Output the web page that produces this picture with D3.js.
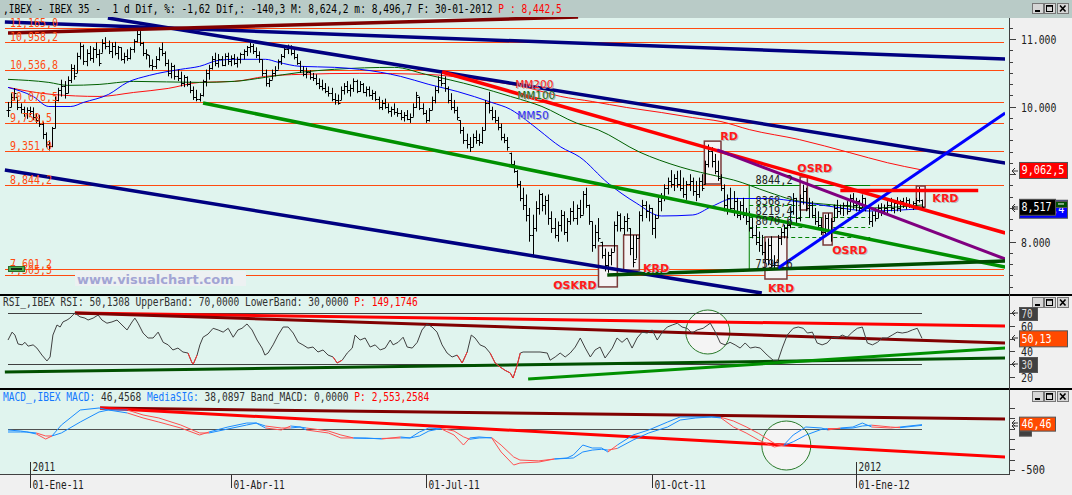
<!DOCTYPE html>
<html><head><meta charset="utf-8">
<script src="https://cdn.jsdelivr.net/npm/d3@7/dist/d3.min.js"></script>
<style>body{margin:0;background:#f0f0f0;overflow:hidden}svg{display:block}</style>
</head><body><svg id="c" width="1072" height="495"></svg>
<script>
// ---------------- DATA ----------------
const hi = [
10070,10200,10277,10150,10050,10000,9990,10000,9990,9900,
9880,9780,9620,9500,9700,10150,10280,10400,10380,10450,
10630,10620,10800,10950,10920,10850,10900,10880,10950,10850,
11000,11030,10980,10950,10960,10900,10880,10800,10850,10880,
11000,11140,11120,10960,10850,10760,10700,10750,10880,10950,
10820,10700,10650,10620,10550,10520,10470,10450,10380,10300,
10250,10200,10400,10550,10620,10750,10800,10780,10750,10790,
10800,10760,10780,10740,10800,10850,10900,10950,10930,10880,
10820,10700,10550,10420,10550,10600,10700,10780,10880,10920,
10910,10850,10780,10680,10600,10580,10540,10500,10480,10420,
10400,10350,10300,10280,10200,10180,10300,10350,10380,10330,
10420,10400,10380,10350,10300,10300,10250,10230,10150,10100,
10120,10050,10000,10050,9980,9950,9920,9950,9900,10050,
10220,10150,10050,9950,9980,10150,10300,10450,10537,10450,
10300,10200,10100,10000,9800,9700,9600,9550,9600,9650,
9600,9700,10100,10220,10000,9950,9850,9750,9600,9550,
9320,9200,9060,8900,8800,8700,8500,8400,8600,8770,
8720,8680,8700,8450,8350,8300,8470,8450,8350,8500,
8600,8550,8620,8750,8800,8550,8300,8250,8350,8000,
7900,7850,7900,8300,8450,8420,8380,8420,8200,8100,
8100,8450,8620,8600,8550,8500,8400,8650,8720,8850,
8950,9060,9000,9050,9060,8950,8900,9000,8950,8900,
8950,9000,9200,9440,9400,9300,9200,9000,8850,8700,
8800,8750,8650,8600,8650,8500,8450,8350,8250,8150,
8100,8000,8050,8080,7800,8100,8200,8250,8300,8500,
8720,8650,8700,8844,8800,8650,8600,8500,8450,8350,
8400,8420,8350,8550,8620,8550,8580,8600,8700,8720,
8650,8620,8700,8650,8550,8450,8500,8550,8570,8550,
8600,8650,8600,8660,8620,8650,8660,8640,8600,8650,
8810,8624];
const lo = [
9847,9990,10100,9950,9900,9850,9820,9870,9800,9760,
9700,9520,9400,9351,9400,9680,10080,10150,10120,10200,
10350,10400,10500,10700,10620,10600,10680,10650,10720,10600,
10800,10850,10780,10720,10760,10700,10680,10640,10680,10700,
10800,10950,10900,10750,10700,10580,10540,10560,10680,10750,
10600,10450,10420,10400,10380,10300,10290,10300,10200,10100,
10080,10076,10150,10300,10400,10550,10600,10580,10600,10600,
10620,10600,10620,10580,10640,10700,10750,10800,10780,10720,
10650,10450,10300,10290,10400,10450,10550,10620,10720,10780,
10760,10700,10620,10500,10450,10420,10400,10380,10320,10260,
10240,10200,10150,10080,10030,10030,10100,10180,10200,10150,
10220,10200,10220,10200,10150,10150,10100,10080,9960,9950,
9970,9900,9850,9880,9850,9800,9780,9800,9760,9850,
9980,9950,9880,9760,9780,9950,10050,10200,10300,10220,
10050,9950,9900,9800,9600,9450,9380,9330,9400,9450,
9420,9450,9650,9900,9800,9760,9650,9500,9460,9350,
9100,9020,8800,8600,8470,8300,8000,7770,8150,8400,
8450,8400,8250,8130,8050,8000,8150,8100,8000,8250,
8300,8250,8350,8400,8500,8250,7850,7900,8000,7750,
7560,7540,7650,7850,8150,8150,8100,8150,7800,7620,
7750,8050,8300,8350,8300,8100,8050,8350,8450,8600,
8700,8800,8750,8800,8750,8650,8620,8750,8680,8600,
8650,8750,8850,9100,9100,9000,8900,8750,8450,8400,
8450,8380,8350,8320,8350,8250,8150,8050,7950,7850,
7800,7700,7650,7600,7595,7700,7950,8050,8050,8200,
8400,8250,8300,8550,8450,8350,8350,8250,8200,8100,
8070,8100,8000,8300,8350,8400,8380,8400,8450,8480,
8450,8450,8500,8450,8250,8220,8300,8350,8380,8400,
8420,8450,8420,8450,8440,8500,8480,8500,8470,8500,
8580,8497];
const cl = [
9950,10150,10200,10000,9960,9900,9950,9940,9850,9800,
9740,9600,9450,9420,9680,10100,10250,10300,10200,10400,
10580,10450,10750,10900,10680,10800,10720,10850,10780,10650,
10950,10900,10820,10900,10800,10880,10700,10750,10720,10850,
10980,11080,10950,10800,10780,10620,10600,10700,10850,10800,
10650,10500,10600,10450,10420,10350,10440,10330,10250,10150,
10120,10180,10380,10500,10580,10700,10650,10700,10620,10750,
10680,10720,10650,10700,10780,10820,10880,10900,10820,10760,
10700,10500,10350,10400,10500,10550,10680,10750,10850,10880,
10800,10740,10650,10540,10480,10520,10440,10420,10350,10300,
10280,10240,10200,10120,10100,10060,10250,10300,10250,10280,
10380,10240,10330,10220,10260,10180,10200,10120,10000,10050,
10000,9940,9960,9920,9900,9850,9880,9820,9850,10000,
10180,9980,9900,9800,9950,10100,10250,10400,10350,10280,
10100,10000,9950,9850,9650,9500,9450,9400,9550,9500,
9480,9650,10050,9950,9850,9800,9700,9550,9500,9400,
9150,9050,8850,8650,8550,8400,8100,8200,8500,8700,
8550,8620,8350,8200,8100,8250,8400,8150,8300,8450,
8350,8500,8400,8700,8550,8300,7950,8150,8050,7800,
7650,7800,7850,8250,8400,8200,8300,8350,7900,7700,
8050,8400,8550,8450,8500,8200,8350,8600,8650,8800,
8900,8850,8950,8850,8800,8700,8850,8900,8750,8700,
8900,8800,9150,9350,9200,9050,8950,8800,8550,8650,
8500,8600,8400,8550,8400,8300,8200,8100,8000,7950,
7850,7750,7950,7650,7700,8050,8150,8200,8250,8450,
8650,8350,8650,8750,8500,8550,8400,8300,8250,8150,
8350,8150,8300,8500,8450,8500,8550,8450,8650,8550,
8600,8500,8650,8500,8300,8400,8350,8500,8450,8500,
8550,8500,8580,8500,8600,8550,8620,8550,8580,8620,
8750,8517];

// horizontal support / resistance levels
const levels = [11165.0, 10958.2, 10536.8, 10076.5, 9758.5, 9351.0, 8844.2, 7601.2, 7505.3];

// moving averages: [bar index, value]
const mm50 = [[0,10286],[8,10152],[13,10003],[20,10003],[24,10063],[32,10182],[38,10360],[45,10464],[55,10554],[61,10598],[67,10687],[72,10702],[82,10702],[86,10658],[93,10598],[104,10583],[112,10554],[125,10449],[134,10330],[143,10226],[154,10063],[160,9960],[165,9800],[169,9655],[176,9403],[182,9255],[191,8869],[200,8573],[208,8381],[218,8396],[224,8520],[231,8640],[242,8640],[252,8589],[263,8515],[274,8455],[291,8488]];
const mm100 = [[0,10405],[13,10360],[19,10316],[29,10330],[40,10375],[61,10360],[72,10375],[82,10435],[93,10509],[104,10554],[123,10583],[133,10479],[149,10301],[160,10152],[170,10003],[181,9758],[188,9655],[201,9329],[214,9107],[227,8958],[231,8914],[242,8736],[250,8618],[263,8544],[275,8500],[291,8544]];
const mm200 = [[0,10286],[14,10182],[29,10152],[40,10211],[51,10271],[61,10360],[72,10375],[82,10449],[93,10479],[112,10494],[133,10479],[149,10405],[165,10286],[176,10152],[186,10077],[197,9988],[208,9914],[218,9839],[227,9780],[236,9661],[252,9512],[268,9319],[280,9170],[291,9062.5]];

// trend lines [i1, v1, i2, v2]
const trendMain = [[-1,11255,317.5,10707],[31.8,11314,317.5,9166],[-1,9062,240,7239],[0,11092,181.5,11329],
  [138.2,10514,317.5,8129],[225.8,9359,317.5,7744],[62.1,10055,317.5,7625],[190.8,7507,317.5,7714],
  [245.2,7610,317.5,9907],[265,8759,308.9,8759]];
const trendRsi = [[21.3,70,317.5,59.8],[21.3,70,317.5,46.5],[-1,23.7,317.5,34.7],[165.6,18.2,317.5,42.5]];
const trendMacd = [[29.3,247,317.5,114],[29.3,247,317.5,-343]];

// pattern boxes [i0, i1, vTop, vBottom] and labels [text, i, v]
const boxes = [[188,194,7940,7330],[196,201,8100,7580],[221.7,227,9490,8855],[241,248,8070,7447],[252.2,254.5,8959,8470],[259.5,262.4,8425,7951],[289.2,292,8825,8514]];
const boxLabels = [["OSKRD",173.6,7299],["KRD",202.2,7551],["RD",226.8,9507],["KRD",242,7255],["OSRD",251.3,9033],["OSRD",262.4,7818],["KRD",294.3,8588]];
const maLabels = [["MM200",161.5,10277],["MM100",162.1,10114],["MM50",162.1,9818]];

// Fibonacci retracement
const fibLevels = [8844.2, 8549.3, 8368.2, 8219.4, 8070.6, 7594.6];
const fibText = ["8844,2", null, "8368,2", "8219,4", "8070,6", "7594,6"];
const fibSpan = [236, 274.5];

// RSI samples [bar index, value]
const rsiPts = [[0,48.8],[1.3,55],[2.2,52.7],[3.2,45.7],[4.5,45],[5.4,47],[6.4,44],[8,45],[9.2,42.5],[10.8,37],[12.4,32.4],[13.4,35.5],[14.3,52.7],[15.6,60.6],[16.6,59],[17.5,63],[18.8,64.5],[19.7,66],[21.3,70],[22.9,67],[24.5,66],[25.5,64.5],[27.1,66],[28.7,68.4],[29.9,64.5],[31.5,62],[33.1,63],[34.7,64.5],[36.3,60.6],[37.9,56.7],[39.5,63],[40.4,66],[41.4,62],[43,54.3],[44.6,50.4],[46.2,50.4],[47.8,55],[49.4,47],[51,45],[52.5,41],[54.1,42.5],[55.7,39.4],[57.3,38.6],[58.6,30.8],[59,30],[60.2,37],[61.1,45],[62.1,51],[63.7,53.5],[65.3,58],[66.9,56.7],[68.5,55],[70.1,58],[71.7,51],[73.2,56.7],[74.5,58],[76.1,61.4],[77.7,56.7],[79.3,48.8],[80.9,42.5],[81.8,37],[82.8,38.6],[84.4,45],[86,52.7],[87.6,59],[89.2,59],[90.8,54.3],[92.4,47],[93.9,45],[95.5,42.5],[97.1,43.3],[98.7,39.4],[100.3,41],[101.9,37],[103.5,35.5],[104.8,30.8],[106.4,33],[108,38.6],[109.6,42.5],[110.5,52.7],[112.1,48.8],[113.7,50.4],[115.3,43.3],[116.9,45],[118.5,41],[120.1,42.5],[121.7,48.8],[122.6,45],[124.2,47],[125.8,51],[127.1,43.3],[128.7,42.5],[130.3,47],[131.8,56.7],[133.4,61.4],[135,59],[136.6,55],[138.2,45],[139.8,38.6],[141.4,35.5],[143,37],[144.6,30.8],[146.2,39.4],[147.5,52.7],[148.7,50.4],[150.3,45],[151.9,43.3],[153.5,38.6],[155.1,30.8],[156.7,27.6],[158.3,25],[159.9,23],[160.8,19],[162.1,29],[163.1,38.6],[164,39.4],[169.4,39.4],[171.7,38.6],[172.6,33],[174.2,35.5],[175.8,38.6],[177.4,35.5],[179,38.6],[180.6,43.3],[182.2,50.4],[183.8,42.5],[185.4,35.5],[186.9,41],[188.5,43.3],[190.1,34.7],[192.4,42.5],[193.9,50.4],[195.5,47],[197.1,50.4],[198.7,42.5],[200.3,50.4],[201.9,55],[203.5,54.3],[205.1,56.7],[206.7,48.8],[208.3,55],[209.9,59],[211.5,60.6],[213.1,62],[214.6,59],[216.2,58],[217.8,54.3],[219.4,56.7],[221.3,58],[223.6,62],[225.2,55],[226.8,46.5],[228.3,45],[229.9,47],[231.5,45],[233.1,42.5],[234.7,46.5],[236.3,42.5],[237.9,43.3],[239.5,42.5],[241.7,37],[243.6,33],[245.2,33],[246.5,42.5],[248.1,52.7],[250,58],[251.6,59],[253.2,58],[254.5,54.3],[256.1,55],[257.6,46.5],[259.2,45],[260.8,46.5],[262.4,51],[264,50.4],[265.6,52.7],[267.2,51],[268.8,55],[270.4,58],[272,59],[273.6,46.5],[275.2,45],[276.8,47],[278.3,50.4],[279.9,50.4],[281.5,52.7],[283.1,55],[284.7,54.3],[286.3,55],[287.9,56.7],[289.5,58],[291,50.13]];

// MACD samples [bar index, macd, signal]
const macdPts = [[0,-18,-42],[4,-30,-42],[6,-42,-42],[9,-66,-54],[12,-127,-90],[14,-90,-90],[17,42,-54],[23,223,78],[29,247,199],[32,223,223],[38,187,223],[43,127,163],[48,78,127],[55,6,42],[61,-78,-54],[64,-42,-54],[70,18,-6],[76,66,42],[79,66,66],[82,6,30],[87,-18,6],[90,30,6],[93,18,18],[95,-18,6],[102,-54,-30],[106,-114,-78],[110,-114,-114],[114,-114,-120],[119,-127,-120],[125,-102,-114],[128,-114,-114],[131,-42,-90],[134,6,-30],[138,-6,0],[142,-78,-30],[145,-199,-100],[147,-114,-130],[150,-102,-114],[154,-114,-110],[157,-283,-200],[161,-440,-343],[163,-416,-380],[169,-404,-390],[174,-367,-367],[178,-355,-360],[180,-319,-355],[183,-199,-283],[186,-235,-260],[189,-235,-250],[191,-283,-260],[194,-199,-240],[199,-78,-139],[204,-18,-54],[210,78,18],[214,139,102],[219,139,127],[224,139,139],[227,127,135],[231,18,90],[235,-54,20],[239,-139,-60],[244,-223,-180],[247,-199,-205],[250,-78,-160],[254,18,-80],[259,6,-10],[261,-18,0],[265,6,0],[269,18,6],[272,66,30],[275,18,40],[281,6,18],[284,18,10],[291,46.46,38.09]];

const circles = [[222.8,55.1],[247.8,-205]]; // RSI circle, MACD circle (index, value)

const tickIdx = [7, 71, 133, 205, 270];
const tickLbl = ["01-Ene-11","01-Abr-11","01-Jul-11","01-Oct-11","01-Ene-12"];
const yearTicks = [[7,"2011"],[270,"2012"]];
const mainAxisMajor = [11000, 10000, 8000];   // 9.000 is hidden behind the value box
const rsiAxis = [70, 60, 50, 40, 30, 20];
const macdAxis = [250, 125, 0, -125, -250, -375, -500];

// ---------------- DRAW ----------------
const svg = d3.select('#c');
const xs = d3.scaleLinear().domain([0, 291]).range([8, 922]);
const ym = d3.scaleLinear().domain([8000, 11000]).range([241.7, 39.2]);
const yr = d3.scaleLinear().domain([30, 70]).range([364, 313]);
const yd = d3.scaleLinear().domain([-500, 0]).range([470, 428.5]);
const MINT = '#e0f4ee', GRAY = '#f0f0f0';
const MONO = '"DejaVu Sans Mono", monospace';
const SANS = '"DejaVu Sans", sans-serif';

// monospace text sized so its natural width matches the reference; stretched vertically
function txt(g, x, y, s, fill, o = {}) {
  const cw = o.w ? o.w / s.length : (o.cw || 5.76);
  const fs = cw / 0.602;
  const sy = Math.min(1.35, (o.h || 11.5) / fs);
  return g.append('text').attr('transform', `translate(${x},${y}) scale(1,${sy.toFixed(3)})`)
    .attr('fill', fill).text(s).style('font-family', MONO).style('font-size', fs.toFixed(2) + 'px').style('white-space', 'pre');
}
function stxt(g, x, y, s, fill, fs, bold) {
  const t = g.append('text').attr('x', x).attr('y', y).attr('fill', fill).text(s).style('font-family', SANS).style('font-size', fs + 'px');
  if (bold) t.style('font-weight', 'bold');
  return t;
}

svg.append('rect').attr('width', 1072).attr('height', 495).attr('fill', GRAY);
svg.append('rect').attr('width', 1072).attr('height', 18).attr('fill', '#b9cbc7');
svg.append('rect').attr('x', 0).attr('y', 18).attr('width', 1009).attr('height', 276).attr('fill', MINT);
svg.append('rect').attr('x', 0).attr('y', 296).attr('width', 1009).attr('height', 92).attr('fill', MINT);
svg.append('rect').attr('x', 0).attr('y', 390).attr('width', 1009).attr('height', 84).attr('fill', MINT);

const defs = svg.append('defs');
defs.append('clipPath').attr('id', 'cm').append('rect').attr('x', 0).attr('y', 17).attr('width', 1005).attr('height', 277);
defs.append('clipPath').attr('id', 'cr').append('rect').attr('x', 0).attr('y', 308).attr('width', 1005).attr('height', 80);
defs.append('clipPath').attr('id', 'cd').append('rect').attr('x', 0).attr('y', 404).attr('width', 1005).attr('height', 70);

// ---- main panel ----
const gm = svg.append('g').attr('clip-path', 'url(#cm)');
levels.forEach(v => {
  const y = Math.round(ym(v)) + 0.5;
  gm.append('line').attr('x1', 5).attr('x2', 1004).attr('y1', y).attr('y2', y).attr('stroke', '#ff4a10').attr('stroke-width', 1);
});

// fib frame
const fx0 = xs(fibSpan[0]), fx1 = xs(fibSpan[1]);
gm.append('line').attr('x1', fx0).attr('x2', fx0).attr('y1', ym(fibLevels[0])).attr('y2', ym(fibLevels[5])).attr('stroke', '#008000');
fibLevels.forEach((v, k) => {
  const y = Math.round(ym(v)) + 0.5;
  const l = gm.append('line').attr('x1', fx0).attr('x2', fx1).attr('y1', y).attr('y2', y).attr('stroke', '#008000').attr('stroke-width', 1);
  if (k > 0 && k < 5) l.attr('stroke-dasharray', '4,3');
});

// boxes
boxes.forEach(b => {
  gm.append('rect').attr('x', xs(b[0])).attr('y', ym(b[2])).attr('width', xs(b[1]) - xs(b[0])).attr('height', ym(b[3]) - ym(b[2]))
    .attr('fill', '#f4f4f4').attr('stroke', '#7a3a3a').attr('stroke-width', 1.5);
});

// moving averages
const maLine = d3.line().x(d => xs(d[0])).y(d => ym(d[1])).curve(d3.curveMonotoneX);
[[mm200, '#ff1010'], [mm100, '#006000'], [mm50, '#0000ff']].forEach(([d, c]) => {
  gm.append('path').attr('d', maLine(d)).attr('fill', 'none').attr('stroke', c).attr('stroke-width', 1);
});

// OHLC bars
let bp = '';
cl.forEach((c, i) => {
  const x = Math.round(xs(i)) + 0.5;
  const o = i ? Math.max(lo[i], Math.min(hi[i], cl[i - 1])) : c;
  bp += `M${x},${ym(hi[i])}V${ym(lo[i])}M${x - 2},${Math.round(ym(o)) + 0.5}H${x}M${x},${Math.round(ym(c)) + 0.5}H${x + 2}`;
});
gm.append('path').attr('d', bp).attr('stroke', '#000').attr('stroke-width', 1).attr('fill', 'none');

// trend lines
const mainColors = ['#000080', '#000080', '#000080', '#800000', '#ff0000', '#800080', '#009000', '#004d00', '#0000ff', '#ff0000'];
const mainWidths = [3.5, 3.5, 3.5, 3.5, 3.5, 3, 3.5, 3.5, 3, 3.5];
trendMain.forEach((t, k) => {
  gm.append('line').attr('x1', xs(t[0])).attr('y1', ym(t[1])).attr('x2', xs(t[2])).attr('y2', ym(t[3]))
    .attr('stroke', mainColors[k]).attr('stroke-width', mainWidths[k]);
});

// level labels
levels.forEach(v => {
  const s = d3.format(',.1f')(v).replace('.', ',');
  txt(gm, 10, Math.round(ym(v)) - 1, s, '#ff4a10', { cw: 6 });
});

// fib labels
fibLevels.forEach((v, k) => {
  if (!fibText[k]) return;
  const off = (k === 0 || k === 5) ? -1 : -12;
  txt(gm, xs(238), ym(v) + off, fibText[k], '#202020', { cw: 6.2 });
});

// MA labels
const maCol = { MM200: '#ff2020', MM100: '#207020', MM50: '#3030ff' };
maLabels.forEach(([s, i, v]) => {
  stxt(gm, xs(i) + 1, ym(v) + 1, s, '#a8a8a8', 10.5);
  stxt(gm, xs(i), ym(v), s, maCol[s], 10.5);
});

// pattern labels
boxLabels.forEach(([s, i, v]) => {
  stxt(gm, xs(i) + 1, ym(v) + 1, s, '#b8b8b8', 11, true);
  stxt(gm, xs(i), ym(v), s, '#ff1a1a', 11, true);
});

// watermark + marker
gm.append('rect').attr('x', 75).attr('y', 271).attr('width', 171).attr('height', 15).attr('fill', '#edf1f2');
stxt(gm, 77, 284, 'www.visualchart.com', '#a2a5d4', 13, true);
gm.append('rect').attr('x', 8.5).attr('y', 266.5).attr('width', 16).attr('height', 5).attr('fill', '#4caf50').attr('stroke', '#2d6b2d');
gm.append('line').attr('x1', 11).attr('x2', 22).attr('y1', 269).attr('y2', 269).attr('stroke', '#000').attr('stroke-width', 1.5);

// ---- RSI panel ----
const gr = svg.append('g').attr('clip-path', 'url(#cr)');
gr.append('circle').attr('cx', xs(circles[0][0])).attr('cy', yr(circles[0][1])).attr('r', 22).attr('fill', '#f4f4f4').attr('stroke', '#2a7a2a');
[70, 30].forEach(v => gr.append('line').attr('x1', xs(0)).attr('x2', xs(291)).attr('y1', Math.round(yr(v)) + 0.5).attr('y2', Math.round(yr(v)) + 0.5).attr('stroke', '#404040'));
const rsiColors = ['#ff0000', '#800000', '#005000', '#009000'];
trendRsi.forEach((t, k) => gr.append('line').attr('x1', xs(t[0])).attr('y1', yr(t[1])).attr('x2', xs(t[2])).attr('y2', yr(t[3])).attr('stroke', rsiColors[k]).attr('stroke-width', 3));
const rl = d3.line().x(d => xs(d[0])).y(d => yr(d[1]));
gr.append('path').attr('d', rl(rsiPts)).attr('fill', 'none').attr('stroke', '#404040').attr('stroke-width', 1);
for (let k = 1; k < rsiPts.length; k++) {
  if (Math.min(rsiPts[k - 1][1], rsiPts[k][1]) < 31)
    gr.append('path').attr('d', rl([rsiPts[k - 1], rsiPts[k]])).attr('stroke', '#ff3030').attr('fill', 'none');
}

// ---- MACD panel ----
const gd = svg.append('g').attr('clip-path', 'url(#cd)');
gd.append('circle').attr('cx', xs(circles[1][0])).attr('cy', yd(circles[1][1])).attr('r', 24.5).attr('fill', '#f4f4f4').attr('stroke', '#2a7a2a');
gd.append('line').attr('x1', xs(0)).attr('x2', xs(291)).attr('y1', Math.round(yd(0)) + 0.5).attr('y2', Math.round(yd(0)) + 0.5).attr('stroke', '#505050');
const macdColors = ['#800000', '#ff0000'];
trendMacd.forEach((t, k) => gd.append('line').attr('x1', xs(t[0])).attr('y1', yd(t[1])).attr('x2', xs(t[2])).attr('y2', yd(t[3])).attr('stroke', macdColors[k]).attr('stroke-width', 3));
for (let k = 1; k < macdPts.length; k++) {
  const a = macdPts[k - 1], b = macdPts[k];
  const col = a[1] >= a[2] ? '#1a8cff' : '#ff5050';
  [1, 2].forEach(j => gd.append('line').attr('x1', xs(a[0])).attr('y1', yd(a[j])).attr('x2', xs(b[0])).attr('y2', yd(b[j])).attr('stroke', col).attr('stroke-width', 1));
}

// ---- separators & axis lines ----
svg.append('line').attr('x1', 0).attr('x2', 1072).attr('y1', 295).attr('y2', 295).attr('stroke', '#000').attr('stroke-width', 2);
svg.append('line').attr('x1', 0).attr('x2', 1072).attr('y1', 389).attr('y2', 389).attr('stroke', '#000').attr('stroke-width', 2);
svg.append('line').attr('x1', 0).attr('x2', 1009).attr('y1', 474.5).attr('y2', 474.5).attr('stroke', '#404040');
svg.append('line').attr('x1', 1009.5).attr('x2', 1009.5).attr('y1', 18).attr('y2', 475).attr('stroke', '#404040');

// ---- titles ----
txt(svg, 3, 13, ',IBEX - IBEX 35 -  1 d Dif, %: -1,62 Dif,: -140,3 M: 8,624,2 m: 8,496,7 F: 30-01-2012', '#000');
txt(svg, 3 + 86 * 5.76, 13, 'P : 8,442,5', '#ff0000');
txt(svg, 3, 306, 'RSI_,IBEX RSI: 50,1308 UpperBand: 70,0000 LowerBand: 30,0000', '#303030');
txt(svg, 3 + 61 * 5.76, 306, 'P: 149,1746', '#ff0000');
[['MACD_,IBEX MACD:', 0, '#1478ff'], ['46,4568', 17, '#303030'], ['MediaSIG:', 25, '#1478ff'], ['38,0897', 35, '#303030'],
 ['Band_MACD: 0,0000', 43, '#303030'], ['P: 2,553,2584', 61, '#ff0000']].forEach(([s, o, c]) => txt(svg, 3 + o * 5.76, 401, s, c));

// ---- window buttons ----
function winBtns(y) {
  [1032, 1044, 1057].forEach((bx, k) => {
    svg.append('rect').attr('x', bx + 0.5).attr('y', y + 0.5).attr('width', 11).attr('height', 10).attr('fill', '#d6d6d6').attr('stroke', '#777');
    if (k === 0) svg.append('line').attr('x1', bx + 3).attr('x2', bx + 8).attr('y1', y + 8).attr('y2', y + 8).attr('stroke', '#000').attr('stroke-width', 2);
    if (k === 1) { svg.append('rect').attr('x', bx + 2.5).attr('y', y + 2.5).attr('width', 6).attr('height', 6).attr('fill', 'none').attr('stroke', '#000');
      svg.append('line').attr('x1', bx + 2.5).attr('x2', bx + 8.5).attr('y1', y + 3).attr('y2', y + 3).attr('stroke', '#000').attr('stroke-width', 1.5); }
    if (k === 2) svg.append('path').attr('d', `M${bx + 3},${y + 2.5}L${bx + 8.5},${y + 8.5}M${bx + 8.5},${y + 2.5}L${bx + 3},${y + 8.5}`).attr('stroke', '#000').attr('stroke-width', 1.6);
  });
}
winBtns(3); winBtns(297); winBtns(391);

// ---- right axes ----
const ga = svg.append('g');
for (let v = 7333.33; v < 11250; v += 1000 / 6) {
  const y = Math.round(ym(v)) + 0.5;
  const major = Math.abs(v / 1000 - Math.round(v / 1000)) < 0.01;
  ga.append('line').attr('x1', 1009).attr('x2', major ? 1016 : 1013).attr('y1', y).attr('y2', y).attr('stroke', '#404040');
}
mainAxisMajor.forEach(v => txt(ga, 1021, ym(v) + 5, d3.format(',')(v).replace(',', '.'), '#202020', { cw: 5.9 }));
rsiAxis.forEach(v => { const y = Math.round(yr(v)) + 0.5; ga.append('line').attr('x1', 1009).attr('x2', 1015).attr('y1', y).attr('y2', y).attr('stroke', '#404040'); });
macdAxis.forEach(v => { const y = Math.round(yd(v)) + 0.5; ga.append('line').attr('x1', 1009).attr('x2', 1015).attr('y1', y).attr('y2', y).attr('stroke', '#404040'); });

function arrow(y) { ga.append('path').attr('d', `M1018,${y}H1012M1015,${y - 3}L1012,${y}L1015,${y + 3}`).attr('stroke', '#333').attr('fill', 'none'); }
function vbox(x, y, w, h, fill, s, tc, tw) {
  ga.append('rect').attr('x', x + 0.5).attr('y', y + 0.5).attr('width', w).attr('height', h).attr('fill', fill).attr('stroke', '#555');
  if (s) txt(ga, x + 2.5, y + h / 2 + 4.5, s, tc || '#fff', { w: tw });
}
// main value boxes
vbox(1019, ym(9062.5) - 8, 48, 16, '#ff0000', '9,062,5', '#fff', 43); arrow(Math.round(ym(9062.5)) + 1);
vbox(1019, ym(8488.4) - 9, 48, 18, '#0000ff', '8,488,4', '#fff', 43);
vbox(1055, ym(8544) - 4, 12, 6, '#005000');
ga.append('line').attr('x1', 1058).attr('x2', 1064).attr('y1', ym(8544) - 1).attr('y2', ym(8544) - 1).attr('stroke', '#fff');
vbox(1019, ym(8517) - 8, 36, 16, '#000', '8,517', '#fff', 30);
arrow(Math.round(ym(8517))); arrow(Math.round(ym(8488.4)));
// RSI labels
vbox(1019, yr(70) - 6, 18, 13, '#404040', '70', '#ddd', 11);
txt(ga, 1021, yr(60) + 5, '60', '#202020', { w: 12 });
vbox(1019, yr(50.13) - 8, 48, 16, '#ff4a00', '50,13', '#fff', 30);
txt(ga, 1021, yr(40) + 5, '40', '#202020', { w: 12 });
vbox(1019, yr(30) - 7, 18, 15, '#404040', '30', '#ddd', 11);
txt(ga, 1021, yr(20) + 5, '20', '#202020', { w: 12 });
arrow(Math.round(yr(70))); arrow(Math.round(yr(50.13))); arrow(Math.round(yr(30)));
// MACD labels
vbox(1019, yd(46.46) - 8, 36, 14, '#ff4a00', '46,46', '#fff', 30);
vbox(1019, yd(46.46) + 6, 12, 5, '#404040');
arrow(Math.round(yd(46.46)) - 2); arrow(Math.round(yd(38.09)) + 1);
txt(ga, 1020, yd(-500) + 4, '-500', '#202020', { w: 25 });

// ---- date axis ----
const gx = svg.append('g');
tickIdx.forEach((i, k) => {
  const x = Math.round(xs(i)) + 0.5;
  gx.append('line').attr('x1', x).attr('x2', x).attr('y1', 475).attr('y2', 488).attr('stroke', '#303030');
  txt(gx, x + 2, 489, tickLbl[k], '#202020', { cw: 5.7 });
});
yearTicks.forEach(([i, s]) => {
  const x = Math.round(xs(i)) + 0.5;
  gx.append('line').attr('x1', x).attr('x2', x).attr('y1', 462).attr('y2', 475).attr('stroke', '#303030');
  txt(gx, x + 2, 471, s, '#202020', { cw: 5.7 });
});
</script></body></html>
